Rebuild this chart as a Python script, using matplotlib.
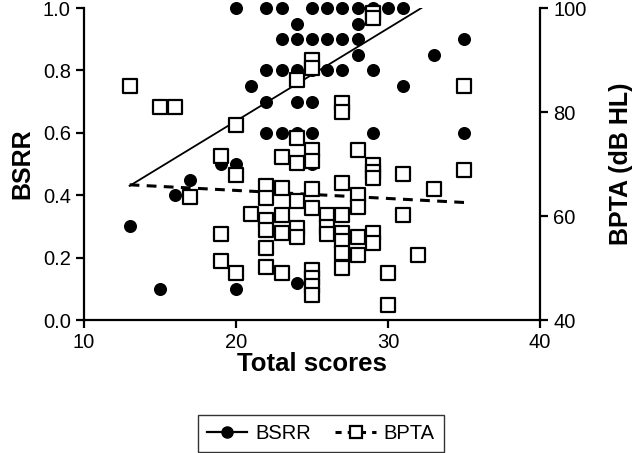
import matplotlib
matplotlib.use("Agg")
import matplotlib.pyplot as plt
from matplotlib.lines import Line2D

plt.rcParams['font.family'] = ['Liberation Sans', 'DejaVu Sans']

# BSRR (left axis) data
bsrr_x = [20, 22, 23, 25, 26, 27, 28, 29, 30, 31,
          24, 28,
          23, 24, 25, 26, 27, 28, 35,
          28, 33,
          22, 23, 24, 25, 26, 27, 29,
          21, 31,
          22, 24, 25, 27,
          22, 23, 24, 25, 29, 35,
          19, 20, 25,
          17, 16, 13, 24, 15, 20]
bsrr_y = [1.0] * 10 + [0.95] * 2 + [0.90] * 7 + [0.85] * 2 + [0.80] * 7 + \
         [0.75] * 2 + [0.70] * 4 + [0.60] * 6 + [0.50] * 3 + \
         [0.45, 0.40, 0.30, 0.12, 0.10, 0.10]

# BPTA (right axis, dB HL) data
bpta_x = [13, 15, 16, 17, 19, 19, 19, 20, 20, 20, 21,
          22, 22, 22, 22, 22, 22,
          23, 23, 23, 23, 23,
          24, 24, 24, 24, 24, 24,
          25, 25, 25, 25, 25, 25, 25, 25, 25, 25,
          26, 26, 26,
          27, 27, 27, 27, 27, 27, 27, 27,
          28, 28, 28, 28, 28,
          29, 29, 29, 29, 29, 29, 29,
          30, 30, 31, 31, 32, 33, 35, 35]
bpta_y = [85, 81, 81, 63.7, 71.5, 56.5, 51.4, 77.5, 67.8, 49, 60.4,
          65.8, 63.5, 59.2, 57.3, 53.8, 50.2,
          71.4, 65.4, 60.2, 56.7, 49,
          86.2, 75, 70.2, 62.8, 57.6, 56,
          90, 88.5, 72.7, 70.5, 65.2, 61.5, 49.6, 48, 46.5, 44.8,
          60.2, 57.9, 56.6,
          81.8, 80, 66.3, 60.2, 56.7, 55.2, 52.9, 50,
          72.6, 64, 61.7, 56, 52.5,
          99, 98, 69.8, 68.5, 67.3, 56.7, 54.8,
          49, 42.8, 68, 60.2, 52.5, 65.2, 85, 68.8]

# Fitted trend lines (endpoints)
bsrr_fit_x = [13, 32.2]
bsrr_fit_y = [0.43, 1.0]
bpta_fit_x = [13, 35]
bpta_fit_y = [66.0, 62.6]

xticks = [10, 20, 30, 40]
yticks_left = [0.0, 0.2, 0.4, 0.6, 0.8, 1.0]
yticks_right = [40, 60, 80, 100]

fig = plt.figure(figsize=(6.38, 4.53), dpi=100)
ax = fig.add_axes([84 / 638, 1 - 320 / 453, 456 / 638, 312 / 453])
ax2 = ax.twinx()

lw = 1.6
ax.plot(bsrr_fit_x, bsrr_fit_y, color='black', lw=1.3, zorder=2)
ax.scatter(bsrr_x, bsrr_y, s=70, color='black', marker='o', zorder=3, clip_on=False)

ax2.plot(bpta_fit_x, bpta_fit_y, color='black', lw=2.2, linestyle=(0, (3.2, 2.4)), zorder=2)
ax2.scatter(bpta_x, bpta_y, s=95, marker='s', facecolor='white', edgecolor='black',
            linewidth=1.6, zorder=3, clip_on=False)

ax.set_xlim(10, 40)
ax.set_ylim(0, 1.0)
ax2.set_ylim(40, 100)
ax.set_xticks(xticks)
ax.set_yticks(yticks_left)
ax.set_yticklabels([f"{v:.1f}" for v in yticks_left])
ax2.set_yticks(yticks_right)

for a in (ax, ax2):
    a.spines['top'].set_visible(False)
    for s in ('left', 'right', 'bottom'):
        a.spines[s].set_linewidth(lw)
    a.tick_params(width=lw, length=6, labelsize=14.5, direction='out')
ax.spines['right'].set_visible(False)
ax2.spines['left'].set_visible(False)
ax2.spines['bottom'].set_visible(False)

ax.set_xlabel('Total scores', fontsize=18.5, fontweight='bold', labelpad=0)
ax.set_ylabel('BSRR', fontsize=18, fontweight='bold', labelpad=6)
ax2.set_ylabel('BPTA (dB HL)', fontsize=18, fontweight='bold', labelpad=16)

handles = [
    Line2D([], [], color='black', lw=1.6, marker='o', markersize=8),
    Line2D([], [], color='black', lw=2.2, linestyle=(0, (2, 2)), marker='s', markersize=9,
           markerfacecolor='white', markeredgewidth=1.6),
]
leg = fig.legend(handles, ['BSRR', 'BPTA'], loc='center', bbox_to_anchor=(0.503, 0.044),
                 ncol=2, fontsize=14.5, frameon=True, fancybox=False, handlelength=2.0,
                 columnspacing=1.2, handletextpad=0.4, borderpad=0.45)
leg.get_frame().set_edgecolor('black')
leg.get_frame().set_linewidth(1.0)

fig.savefig('out.png', dpi=100)
